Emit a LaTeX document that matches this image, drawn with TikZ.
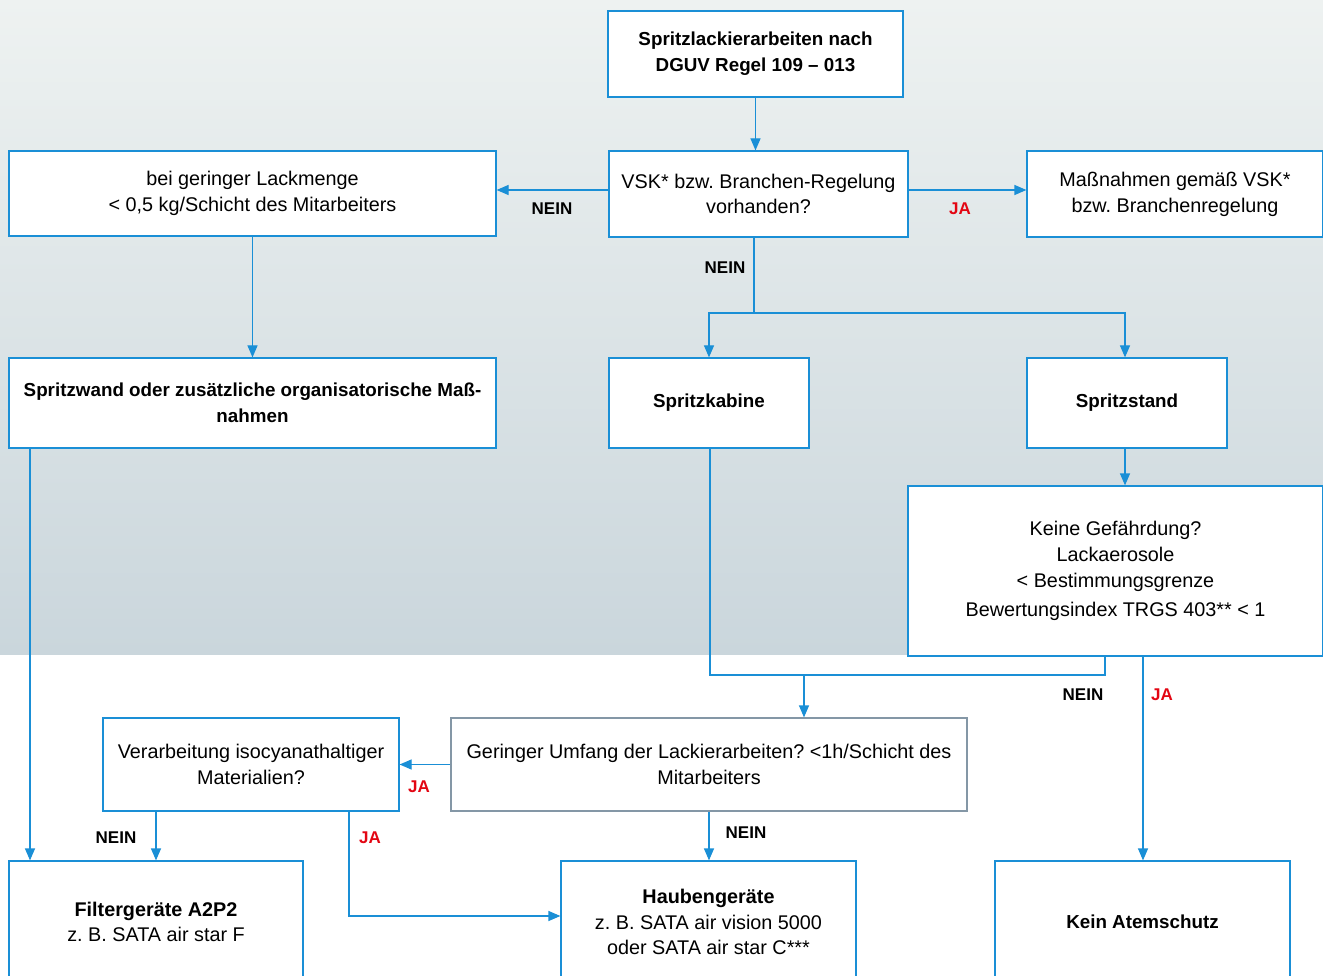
\documentclass[tikz,border=0pt]{standalone}
\usepackage{fontspec}
\setmainfont{Liberation Sans}
\usetikzlibrary{arrows.meta}
\definecolor{lineblue}{HTML}{1A8FD6}
\definecolor{greyline}{HTML}{8497A6}
\definecolor{jared}{HTML}{E30613}
\definecolor{skytop}{HTML}{EEF2F1}
\definecolor{skymid}{HTML}{BFCAD3}
\definecolor{skybot}{HTML}{CAD6DC}
\frenchspacing
\tikzset{
  box/.style={draw=lineblue, line width=1.2pt, fill=white, align=center, inner sep=4pt,
    font=\fontsize{19.8}{25.8}\selectfont},
  bbox/.style={box, font=\fontsize{18.8}{25.8}\selectfont\bfseries},
  conn/.style={draw=lineblue, line width=1.2pt},
  arr/.style={conn, -{Triangle[length=12pt,width=10pt]}},
  nein/.style={font=\fontsize{17}{20}\selectfont\bfseries, text=black},
  ja/.style={font=\fontsize{17}{20}\selectfont\bfseries, text=jared}
}
\begin{document}
\begin{tikzpicture}[x=1pt,y=-1pt]
\clip (0,0) rectangle (1323,976);
\path[fill=white] (0,0) rectangle (1323,976);
\shade[top color=skytop, middle color=skymid, bottom color=skybot] (0,0) rectangle (1323,654);

% boxes
\node[bbox, minimum width=295, minimum height=86] (top) at (755.5,54) {Spritzlackierarbeiten nach\\DGUV Regel 109 -- 013};
\node[box, minimum width=299, minimum height=86] (vsk) at (758.5,194) {VSK* bzw. Branchen-Regelung\\vorhanden?};
\node[box, minimum width=487, minimum height=85] (left) at (252.5,193.5) {bei geringer Lackmenge\\< 0,5 kg/Schicht des Mitarbeiters};
\node[box, minimum width=296, minimum height=86] (right) at (1175,194) {Maßnahmen gemäß VSK*\\bzw. Branchenregelung};
\node[bbox, minimum width=487, minimum height=90] (wand) at (252.5,403) {Spritzwand oder zusätzliche organisatorische Maß-\\nahmen};
\node[bbox, minimum width=200, minimum height=90] (kabine) at (709,403) {Spritzkabine};
\node[bbox, minimum width=200, minimum height=90] (stand) at (1127,403) {Spritzstand};
\node[box, minimum width=415, minimum height=170] (keine) at (1115.5,571) {Keine Gefährdung?\\Lackaerosole\\< Bestimmungsgrenze\\[3pt]Bewertungsindex TRGS 403** < 1};
\node[box, minimum width=296, minimum height=93] (verarb) at (251,764.5) {Verarbeitung isocyanathaltiger\\Materialien?};
\node[box, draw=greyline, minimum width=516, minimum height=93] (gering) at (709,764.5) {Geringer Umfang der Lackierarbeiten? <1h/Schicht des\\Mitarbeiters};
\node[box, minimum width=294, minimum height=122] (filter) at (156,922) {\textbf{Filtergeräte A2P2}\\z. B. SATA air star F};
\node[box, minimum width=295, minimum height=122] (haube) at (708.5,922) {\textbf{Haubengeräte}\\z. B. SATA air vision 5000\\oder SATA air star C***};
\node[bbox, minimum width=295, minimum height=122] (kein) at (1142.5,922) {Kein Atemschutz};

% connectors
\draw[arr] (top.south) -- (top.south |- vsk.north);
\draw[arr] ([yshift=4pt]vsk.west) -- ([yshift=4pt]vsk.west -| left.east);
\draw[arr] ([yshift=4pt]vsk.east) -- ([yshift=4pt]vsk.east -| right.west);
\coordinate (j1) at (754,313);
\draw[conn] (vsk.south -| j1) -- (j1);
\draw[arr] (j1) -| (kabine.north);
\draw[arr] (j1) -| ([xshift=-2pt]stand.north);
\draw[arr] (left.south) -- (left.south |- wand.north);
\draw[arr] ([xshift=-2pt]stand.south) -- ([xshift=-2pt]stand.south |- keine.north);
\coordinate (xA) at (30,0);
\draw[arr] (wand.south -| xA) -- (filter.north -| xA);
\coordinate (k1) at (710,675);
\coordinate (k2) at (1105,675);
\coordinate (k3) at (804,675);
\draw[conn] (kabine.south -| k1) -- (k1) -- (k2) -- (k2 |- keine.south);
\draw[arr] (k3) -- (k3 |- gering.north);
\coordinate (xB) at (1143,0);
\draw[arr] (keine.south -| xB) -- (kein.north -| xB);
\draw[arr] (gering.west) -- (verarb.east);
\draw[arr] (gering.south) -- (gering.south |- haube.north);
\draw[arr] (verarb.south -| filter.north) -- (filter.north);
\coordinate (v1) at (349,916);
\draw[arr] (verarb.south -| v1) -- (v1) -- (v1 -| haube.west);

% labels
\node[nein] (l1) at (552,209) {NEIN};
\node[ja] (l2) at (960,209) {JA};
\node[nein] (l3) at (725,268) {NEIN};
\node[nein] (l4) at (1083,695) {NEIN};
\node[ja] (l5) at (1162,695) {JA};
\node[ja] (l6) at (419,787) {JA};
\node[nein] (l7) at (746,833) {NEIN};
\node[nein] (l8) at (116,838) {NEIN};
\node[ja] (l9) at (370,838) {JA};
\end{tikzpicture}
\end{document}
